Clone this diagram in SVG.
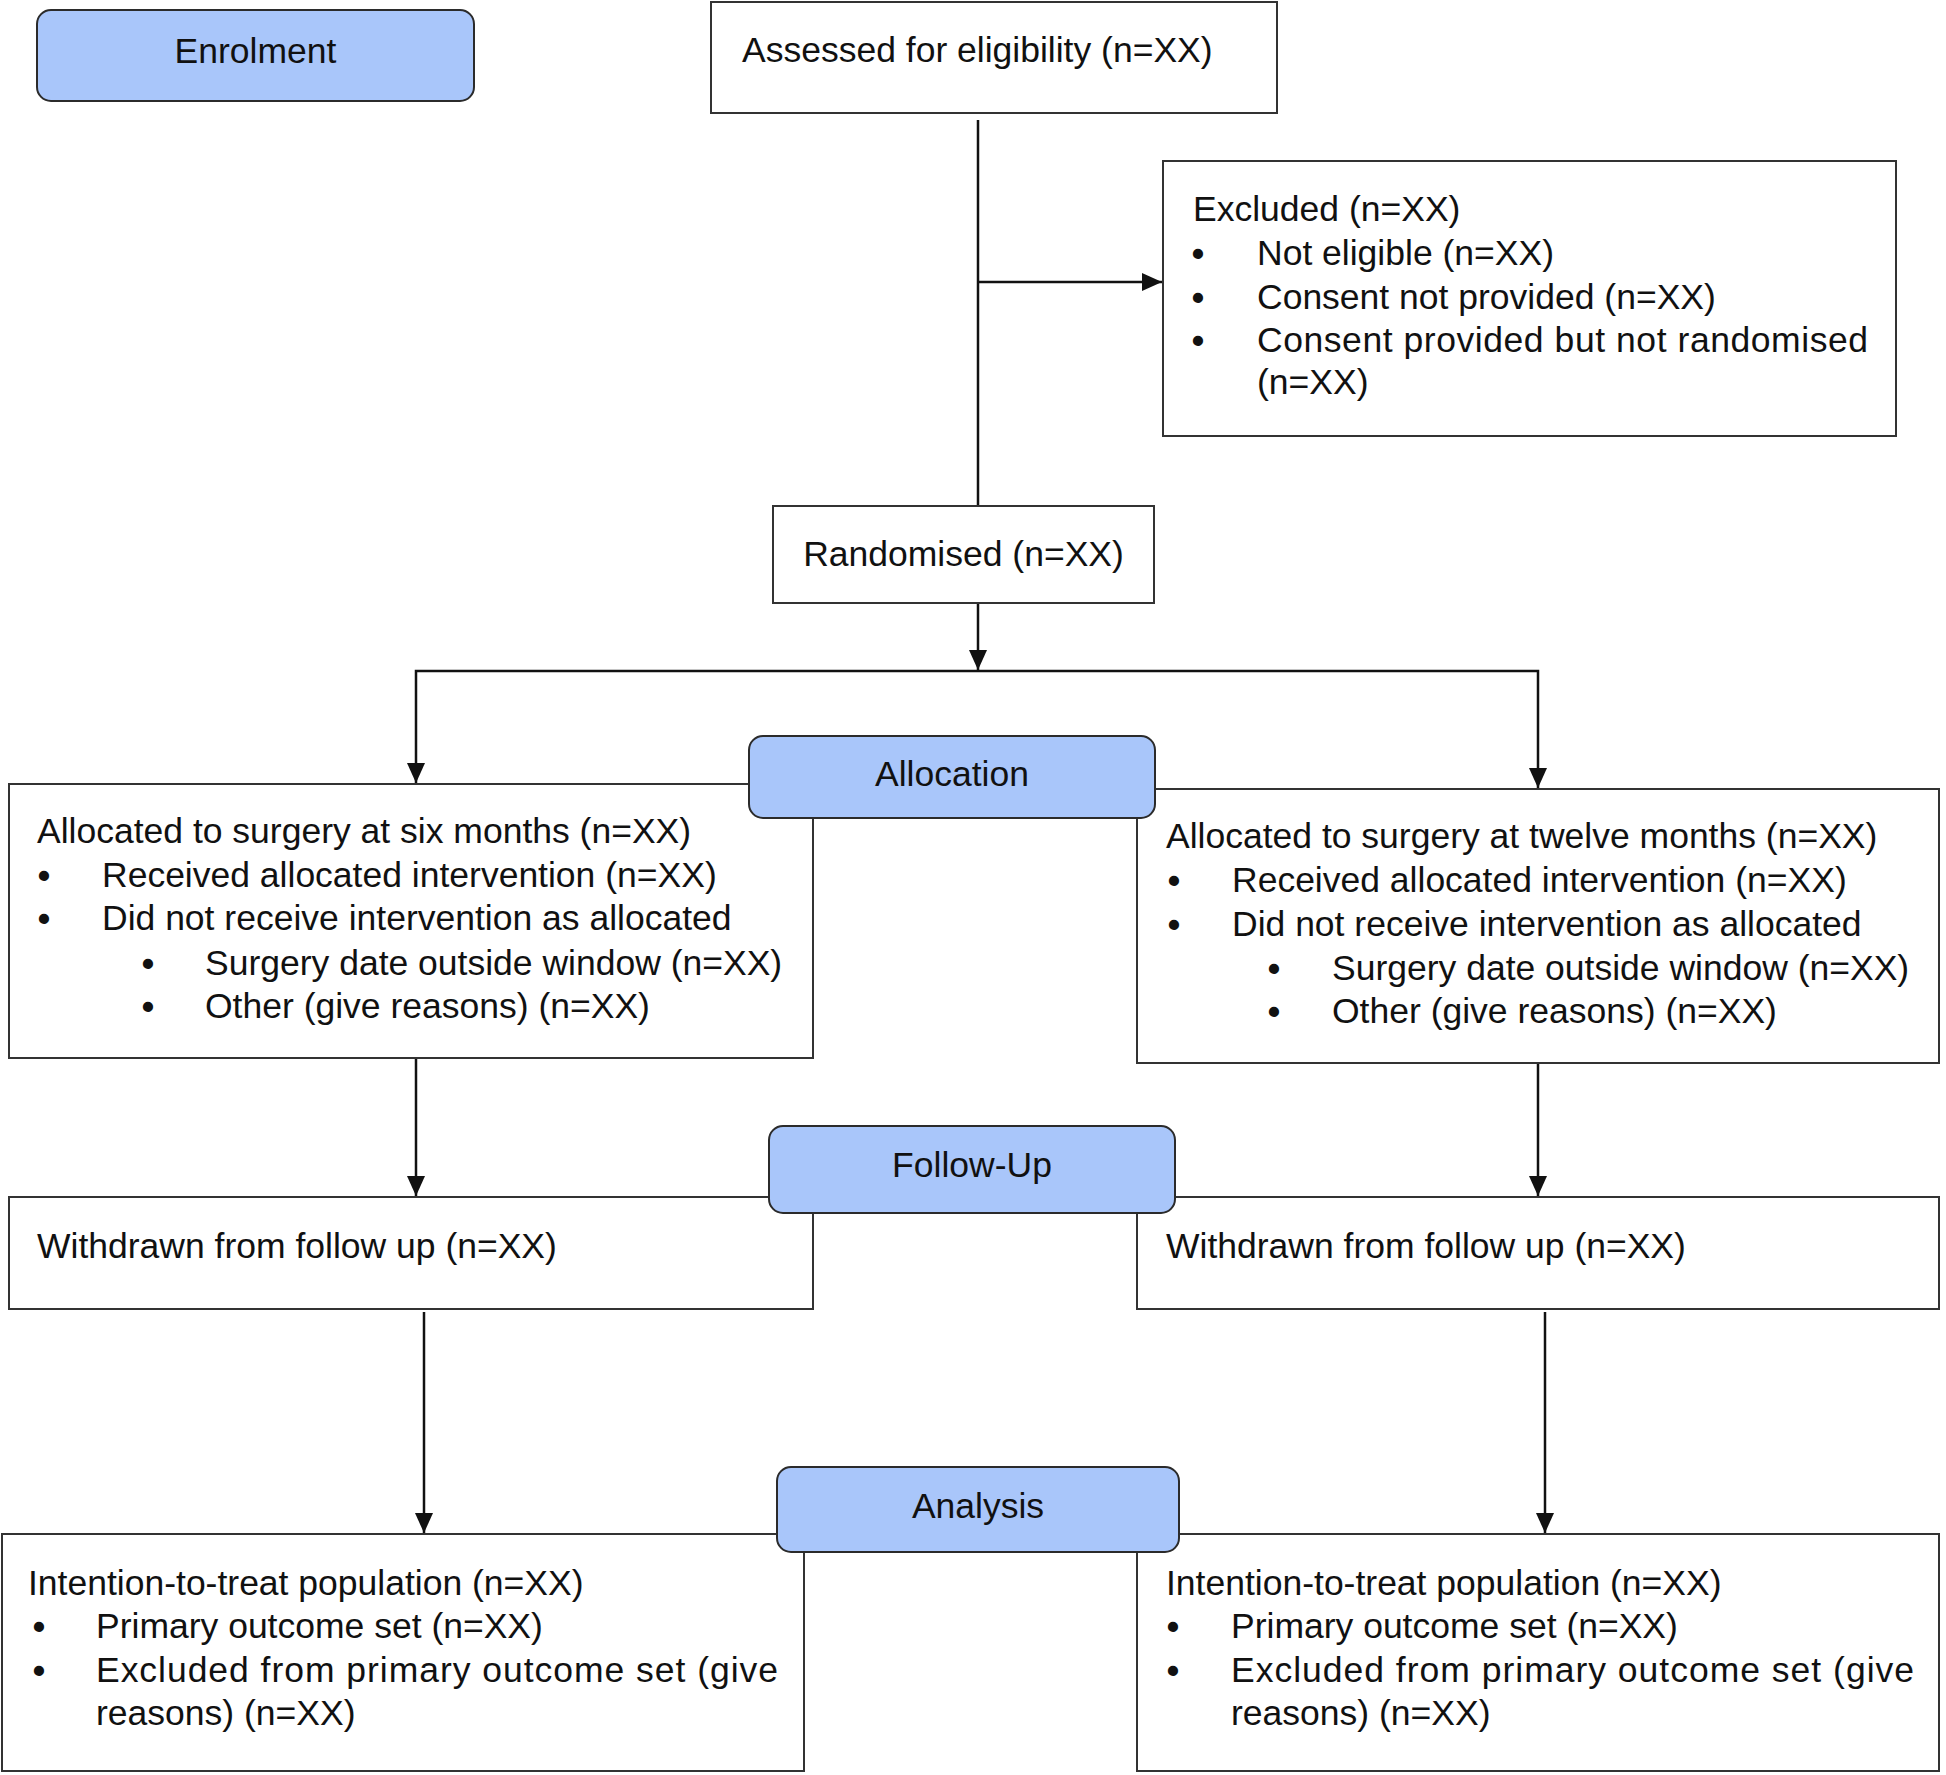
<svg xmlns="http://www.w3.org/2000/svg" width="1946" height="1775" viewBox="0 0 1946 1775">
<style>
  .box { fill: #ffffff; stroke: #333333; stroke-width: 2; }
  .stage { fill: #a9c6fa; stroke: #2b2b2b; stroke-width: 2; }
  text { font-family: "Liberation Sans", Arial, sans-serif; font-size: 35.5px; fill: #111111; }
  .mid { text-anchor: middle; }
  .bul { text-anchor: middle; font-weight: bold; }
  .conn { fill: none; stroke: #111111; stroke-width: 2.5; }
</style>
<defs>
  <marker id="arrow" markerUnits="userSpaceOnUse" markerWidth="20" markerHeight="18" refX="20" refY="9" orient="auto">
    <path d="M0,0 L20,9 L0,18 z" fill="#111111"/>
  </marker>
</defs>
<rect width="1946" height="1775" fill="#ffffff"/>

<g id="connectors">
  <path class="conn" d="M978,120 L978,506"/>
  <path class="conn" d="M978,282 L1162,282" marker-end="url(#arrow)"/>
  <path class="conn" d="M978,603 L978,670" marker-end="url(#arrow)"/>
  <path class="conn" d="M978,671 L416,671 L416,783" marker-end="url(#arrow)"/>
  <path class="conn" d="M978,671 L1538,671 L1538,788" marker-end="url(#arrow)"/>
  <path class="conn" d="M416,1058 L416,1196" marker-end="url(#arrow)"/>
  <path class="conn" d="M1538,1063 L1538,1196" marker-end="url(#arrow)"/>
  <path class="conn" d="M424,1312 L424,1533" marker-end="url(#arrow)"/>
  <path class="conn" d="M1545,1312 L1545,1533" marker-end="url(#arrow)"/>
</g>

<g id="enrolment">
  <rect class="stage" x="37" y="10" width="437" height="91" rx="14"/>
  <text class="mid" x="255.5" y="63">Enrolment</text>
</g>

<g id="assessed">
  <rect class="box" x="711" y="2" width="566" height="111"/>
  <text x="742" y="62">Assessed for eligibility (n=XX)</text>
</g>

<g id="excluded">
  <rect class="box" x="1163" y="161" width="733" height="275"/>
  <text x="1193" y="221">Excluded (n=XX)</text>
  <text class="bul" x="1198" y="266">•</text>
  <text x="1257" y="265">Not eligible (n=XX)</text>
  <text class="bul" x="1198" y="310">•</text>
  <text x="1257" y="309">Consent not provided (n=XX)</text>
  <text class="bul" x="1198" y="353">•</text>
  <text x="1257" y="352" textLength="611" lengthAdjust="spacing">Consent provided but not randomised</text>
  <text x="1257" y="394">(n=XX)</text>
</g>

<g id="randomised">
  <rect class="box" x="773" y="506" width="381" height="97"/>
  <text class="mid" x="963.5" y="566">Randomised (n=XX)</text>
</g>

<g id="allocated-six">
  <rect class="box" x="9" y="784" width="804" height="274"/>
  <text x="37" y="843">Allocated to surgery at six months (n=XX)</text>
  <text class="bul" x="44" y="888">•</text>
  <text x="102" y="887">Received allocated intervention (n=XX)</text>
  <text class="bul" x="44" y="931">•</text>
  <text x="102" y="930">Did not receive intervention as allocated</text>
  <text class="bul" x="148" y="976">•</text>
  <text x="205" y="975">Surgery date outside window (n=XX)</text>
  <text class="bul" x="148" y="1019">•</text>
  <text x="205" y="1018">Other (give reasons) (n=XX)</text>
</g>

<g id="allocated-twelve">
  <rect class="box" x="1137" y="789" width="802" height="274"/>
  <text x="1166" y="848">Allocated to surgery at twelve months (n=XX)</text>
  <text class="bul" x="1174" y="893">•</text>
  <text x="1232" y="892">Received allocated intervention (n=XX)</text>
  <text class="bul" x="1174" y="937">•</text>
  <text x="1232" y="936">Did not receive intervention as allocated</text>
  <text class="bul" x="1274" y="981">•</text>
  <text x="1332" y="980">Surgery date outside window (n=XX)</text>
  <text class="bul" x="1274" y="1024">•</text>
  <text x="1332" y="1023">Other (give reasons) (n=XX)</text>
</g>

<g id="withdrawn-six">
  <rect class="box" x="9" y="1197" width="804" height="112"/>
  <text x="37" y="1258">Withdrawn from follow up (n=XX)</text>
</g>

<g id="withdrawn-twelve">
  <rect class="box" x="1137" y="1197" width="802" height="112"/>
  <text x="1166" y="1258">Withdrawn from follow up (n=XX)</text>
</g>

<g id="itt-six">
  <rect class="box" x="2" y="1534" width="802" height="237"/>
  <text x="28" y="1595">Intention-to-treat population (n=XX)</text>
  <text class="bul" x="39" y="1639">•</text>
  <text x="96" y="1638">Primary outcome set (n=XX)</text>
  <text class="bul" x="39" y="1683">•</text>
  <text x="96" y="1682" textLength="682" lengthAdjust="spacing">Excluded from primary outcome set (give</text>
  <text x="96" y="1725">reasons) (n=XX)</text>
</g>

<g id="itt-twelve">
  <rect class="box" x="1137" y="1534" width="802" height="237"/>
  <text x="1166" y="1595">Intention-to-treat population (n=XX)</text>
  <text class="bul" x="1173" y="1639">•</text>
  <text x="1231" y="1638">Primary outcome set (n=XX)</text>
  <text class="bul" x="1173" y="1683">•</text>
  <text x="1231" y="1682" textLength="683" lengthAdjust="spacing">Excluded from primary outcome set (give</text>
  <text x="1231" y="1725">reasons) (n=XX)</text>
</g>

<g id="allocation">
  <rect class="stage" x="749" y="736" width="406" height="82" rx="14"/>
  <text class="mid" x="952" y="786">Allocation</text>
</g>

<g id="follow-up">
  <rect class="stage" x="769" y="1126" width="406" height="87" rx="14"/>
  <text class="mid" x="972" y="1177">Follow-Up</text>
</g>

<g id="analysis">
  <rect class="stage" x="777" y="1467" width="402" height="85" rx="14"/>
  <text class="mid" x="978" y="1518">Analysis</text>
</g>
</svg>
